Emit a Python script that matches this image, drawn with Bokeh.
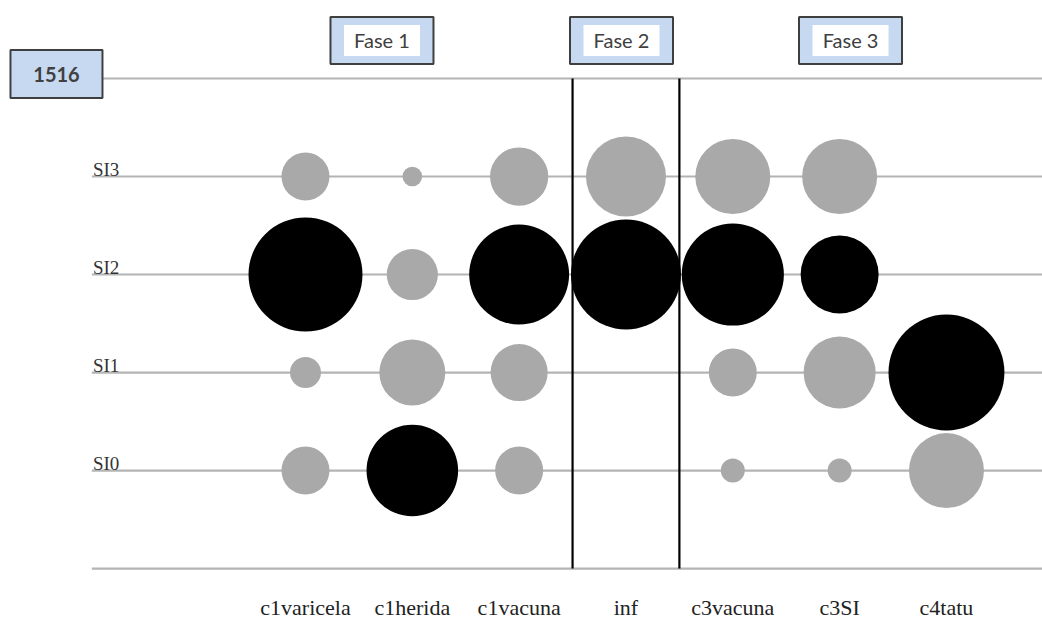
import math
from bokeh.plotting import figure
from bokeh.models import Range1d, ColumnDataSource
from bokeh.core.properties import value
from bokeh.embed import file_html
from bokeh.resources import INLINE

# ---------------- data ----------------
categories = ["c1varicela", "c1herida", "c1vacuna", "inf", "c3vacuna", "c3SI", "c4tatu"]
levels = ["SI0", "SI1", "SI2", "SI3"]
# relative frequency per category (bubble area), 0 = no bubble
si0 = [36, 131, 36, 0, 9, 9, 88]
si1 = [15, 68, 51, 0, 36, 81, 210]
si2 = [203, 41, 156, 189, 163, 95, 0]
si3 = [36, 6, 53, 100, 88, 88, 0]
phase_of = [1, 1, 1, 2, 3, 3, 3]
phase_names = ["Fase 1", "Fase 2", "Fase 3"]
case_label = "1516"

GRAY = "#a9a9a9"
LINE = "#b4b4b4"

X_LO, X_HI = -2.855, 6.899
p = figure(width=1042, height=624, output_backend="svg", toolbar_location=None,
           x_range=Range1d(X_LO, X_HI), y_range=Range1d(-0.571, 5.796),
           min_border=0, min_border_left=0, min_border_right=0,
           min_border_top=0, min_border_bottom=0)
p.axis.visible = False
p.grid.visible = False
p.outline_line_color = None
p.background_fill_color = "white"
p.border_fill_color = "white"

# horizontal guide lines (bottom line, the 4 levels, top line)
n_rows = len(levels) + 2
p.segment(x0=[-2.0] * n_rows, y0=list(range(n_rows)), x1=[X_HI] * n_rows,
          y1=list(range(n_rows)), line_color=LINE, line_width=2.2)

# bubbles
xs, ys, sizes, colors = [], [], [], []
series = [si0, si1, si2, si3]
for i, cat in enumerate(categories):
    col = [s[i] for s in series]
    mx = max(col)
    for k, v in enumerate(col):
        if v <= 0:
            continue
        xs.append(i)
        ys.append(k + 1)
        sizes.append(8 * math.sqrt(v))
        colors.append("black" if v == mx else GRAY)
src = ColumnDataSource(dict(x=xs, y=ys, size=sizes, color=colors))
p.scatter("x", "y", size="size", fill_color="color", line_color=None, source=src)

# vertical phase separators
bounds = [i - 0.5 for i in range(1, len(categories)) if phase_of[i] != phase_of[i - 1]]
p.segment(x0=bounds, y0=[0] * len(bounds), x1=bounds, y1=[n_rows - 1] * len(bounds),
          line_color="black", line_width=2.2)

# level labels
p.text(x=[-1.99] * len(levels), y=[k + 1 for k in range(len(levels))], text=levels,
       text_font=value("Liberation Serif"), text_font_size="19px", text_color="#333333",
       text_align="left", text_baseline="alphabetic", y_offset=-7)

# category labels
p.text(x=list(range(len(categories))), y=[0] * len(categories), text=categories,
       text_font=value("Liberation Serif"), text_font_size="22px", text_color="#222222",
       text_align="center", text_baseline="alphabetic", y_offset=39)

# phase boxes
box_x = [0.716, 2.958, 5.102]
box_y = [5.388] * 3
p.rect(x=box_x, y=box_y, width=103, height=47, width_units="screen", height_units="screen",
       fill_color="#c6d9f1", line_color="#3f3f3f", line_width=2)
p.rect(x=box_x, y=box_y, width=76, height=31, width_units="screen", height_units="screen",
       fill_color="white", line_color=None)
p.text(x=box_x, y=box_y, text=phase_names, text_font=value("Lato"), text_font_size="20px",
       text_color="#404040", text_align="center", text_baseline="middle")

# case label box
p.rect(x=[-2.331], y=[5.046], width=92, height=48, width_units="screen", height_units="screen",
       fill_color="#c6d9f1", line_color="#3f3f3f", line_width=2)
p.text(x=[-2.331], y=[5.046], text=[case_label], text_font=value("Lato"), text_font_size="20px",
       text_font_style="bold", text_color="#404040", text_align="center", text_baseline="middle")

open("out.html", "w").write(file_html(p, INLINE))
